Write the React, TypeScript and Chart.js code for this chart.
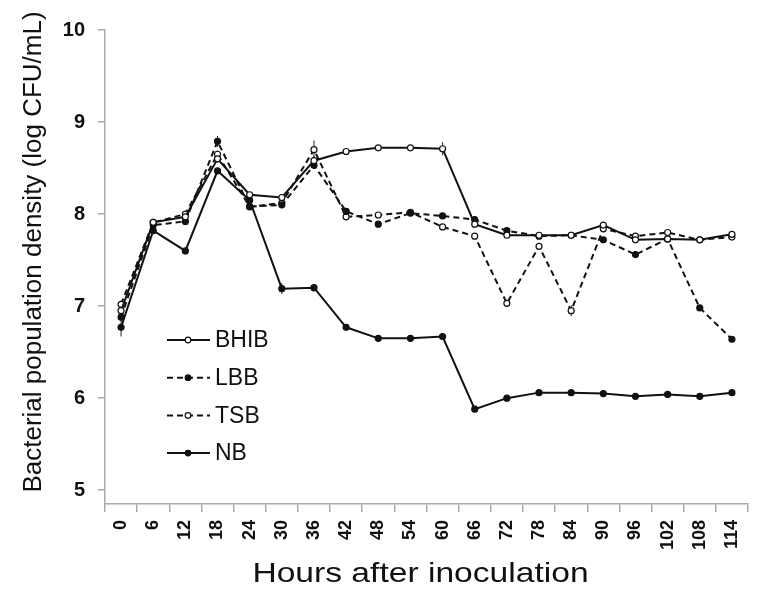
import React, { useEffect, useRef } from "react";
import { Chart, registerables } from "chart.js";

Chart.register(...registerables);

const hours = ["0","6","12","18","24","30","36","42","48","54","60","66","72","78","84","90","96","102","108","114"];
const bhib = [6.95, 7.91, 7.97, 8.60, 8.21, 8.18, 8.58, 8.68, 8.72, 8.72, 8.71, 7.89, 7.77, 7.77, 7.77, 7.88, 7.72, 7.73, 7.72, 7.78];
const lbb = [6.88, 7.88, 7.92, 8.79, 8.08, 8.10, 8.53, 8.03, 7.89, 8.01, 7.98, 7.94, 7.82, 7.76, 7.77, 7.72, 7.56, 7.73, 6.98, 6.64];
const tsb = [7.02, 7.91, 8.00, 8.65, 8.08, 8.12, 8.70, 7.97, 7.99, 8.02, 7.86, 7.76, 7.03, 7.65, 6.95, 7.84, 7.76, 7.80, 7.72, 7.75];
const nb = [6.77, 7.82, 7.60, 8.47, 8.15, 7.19, 7.20, 6.77, 6.65, 6.65, 6.67, 5.88, 6.00, 6.06, 6.06, 6.05, 6.02, 6.04, 6.02, 6.06];
// standard errors (only visible ones are non-zero)
const bhibErr = [0.05, 0, 0, 0.04, 0, 0, 0.05, 0, 0, 0, 0.07, 0, 0, 0, 0, 0, 0, 0, 0, 0];
const lbbErr = [0.04, 0, 0, 0.06, 0, 0, 0.04, 0, 0, 0, 0, 0, 0, 0, 0, 0, 0, 0, 0, 0];
const tsbErr = [0.04, 0, 0, 0.04, 0, 0, 0.1, 0, 0, 0, 0, 0, 0.03, 0, 0.06, 0, 0, 0, 0, 0];
const nbErr = [0.1, 0, 0, 0, 0, 0.06, 0.04, 0, 0, 0, 0, 0, 0, 0, 0, 0, 0, 0, 0, 0];
const yTicks = [5, 6, 7, 8, 9, 10];
const xTitle = "Hours after inoculation";
const yTitle = "Bacterial population density (log CFU/mL)";

const FONT = "'Liberation Sans', Arial, sans-serif";

const errPlugin = {
  id: "errBars",
  beforeDatasetsDraw(chart: any) {
    const ctx = chart.ctx;
    const ys = chart.scales.y;
    const xs = chart.scales.x;
    chart.data.datasets.forEach((ds: any) => {
      const errs: number[] = ds.errors || [];
      ds.data.forEach((v: number, i: number) => {
        const e = errs[i];
        if (!e) return;
        const x = xs.getPixelForValue(i);
        ctx.save();
        ctx.strokeStyle = "#222";
        ctx.lineWidth = 1;
        ctx.beginPath();
        ctx.moveTo(x, ys.getPixelForValue(v - e));
        ctx.lineTo(x, ys.getPixelForValue(v + e));
        ctx.stroke();
        ctx.restore();
      });
    });
  },
};

const decorPlugin = {
  id: "decor",
  afterDraw(chart: any) {
    const ctx = chart.ctx;
    const area = chart.chartArea;
    const x0 = area.left + 62;
    const y0 = area.top + 310;
    const gap = 37.7;
    chart.data.datasets.forEach((ds: any, i: number) => {
      const y = y0 + i * gap;
      ctx.save();
      ctx.strokeStyle = "#111";
      ctx.lineWidth = 2;
      ctx.setLineDash(ds.borderDash || []);
      ctx.beginPath();
      ctx.moveTo(x0, y);
      ctx.lineTo(x0 + 43, y);
      ctx.stroke();
      ctx.setLineDash([]);
      ctx.beginPath();
      ctx.arc(x0 + 21, y, 2.8, 0, Math.PI * 2);
      ctx.fillStyle = ds.pointBackgroundColor;
      ctx.fill();
      ctx.lineWidth = 1.2;
      ctx.stroke();
      ctx.fillStyle = "#111";
      ctx.font = "23px " + FONT;
      ctx.textBaseline = "middle";
      ctx.textAlign = "left";
      ctx.fillText(ds.label, x0 + 48, y + 1);
      ctx.restore();
    });
    ctx.save();
    ctx.fillStyle = "#111";
    ctx.font = "28px " + FONT;
    ctx.textAlign = "center";
    ctx.textBaseline = "alphabetic";
    ctx.translate((area.left + area.right) / 2 - 6, 582);
    ctx.scale(1.2, 1);
    ctx.fillText(xTitle, 0, 0);
    ctx.restore();
    ctx.save();
    ctx.fillStyle = "#111";
    ctx.font = "26px " + FONT;
    ctx.textAlign = "center";
    ctx.textBaseline = "alphabetic";
    ctx.translate(41, 252);
    ctx.rotate(-Math.PI / 2);
    ctx.fillText(yTitle, 0, 0);
    ctx.restore();
  },
};

export default function App() {
  const ref = useRef<HTMLCanvasElement>(null);
  useEffect(() => {
    document.body.style.margin = "0";
    const mk = (label: string, data: number[], errors: number[], dash: number[], filled: boolean) => ({
      label,
      data,
      errors,
      borderColor: "#111",
      borderWidth: 2,
      borderDash: dash,
      pointRadius: 3,
      pointBorderWidth: 1.2,
      pointBorderColor: "#111",
      pointBackgroundColor: filled ? "#111" : "#fff",
      tension: 0,
    });
    const chart = new Chart(ref.current!, {
      type: "line",
      data: {
        labels: hours,
        datasets: [
          mk("BHIB", bhib, bhibErr, [], false),
          mk("LBB", lbb, lbbErr, [6, 4], true),
          mk("TSB", tsb, tsbErr, [6, 4], false),
          mk("NB", nb, nbErr, [], true),
        ],
      },
      options: {
        animation: false,
        responsive: false,
        layout: { padding: { top: 30, right: 20, left: 0, bottom: 0 } },
        plugins: { legend: { display: false }, tooltip: { enabled: false } },
        scales: {
          x: {
            type: "category",
            offset: true,
            afterFit: (axis: any) => { axis.height = 99; },
            grid: { display: true, drawOnChartArea: false, offset: true, tickLength: 8, color: "#aaa", lineWidth: 1.5 },
            border: { color: "#aaa", width: 1.5 },
            ticks: { color: "#111", font: { family: FONT, size: 18, weight: "bold" }, maxRotation: 90, minRotation: 90, padding: 8 },
          },
          y: {
            min: 4.85,
            max: 10,
            afterFit: (axis: any) => { axis.width = 105; },
            afterBuildTicks: (axis: any) => { axis.ticks = yTicks.map((v) => ({ value: v })); },
            grid: { display: true, drawOnChartArea: false, tickLength: 7, color: "#aaa", lineWidth: 1.5 },
            border: { color: "#aaa", width: 1.5 },
            ticks: { color: "#111", font: { family: FONT, size: 20, weight: "bold" }, padding: 13 },
          },
        },
      },
      plugins: [errPlugin, decorPlugin],
    } as any);
    return () => chart.destroy();
  }, []);
  return (
    <div style={{ width: 768, height: 603 }}>
      <canvas ref={ref} width={768} height={603} />
    </div>
  );
}
